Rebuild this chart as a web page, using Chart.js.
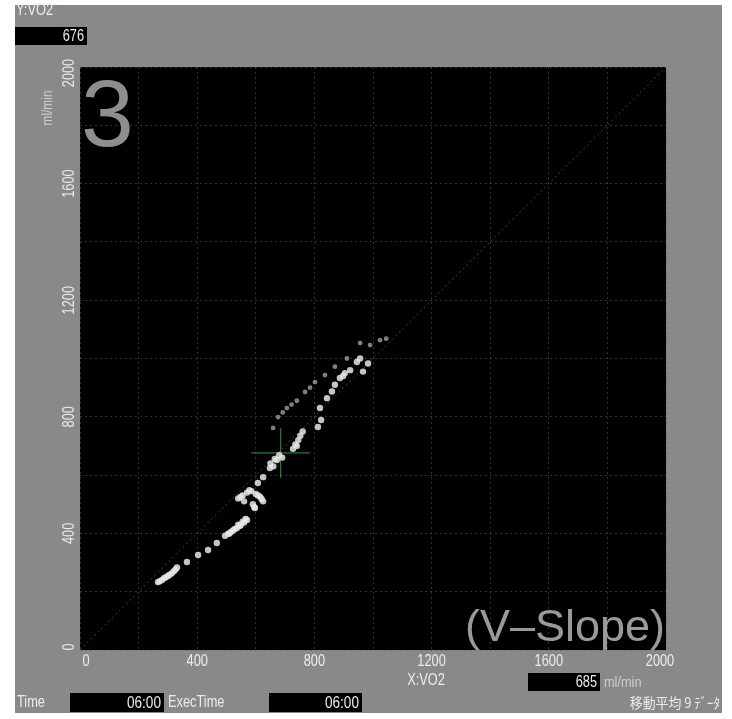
<!DOCTYPE html>
<html>
<head>
<meta charset="utf-8">
<script src="https://cdn.jsdelivr.net/npm/chart.js@4.4.1/dist/chart.umd.min.js"></script>
<style>
  html, body { margin: 0; padding: 0; background: #fff; }
  canvas { display: block; }
</style>
</head>
<body>
<canvas id="vslope" width="732" height="719"></canvas>
<script>
// V-slope data (ml/min), bright breaths
const vco2X = [266, 272, 280, 287, 293, 300, 306, 313, 320, 326, 331, 365, 403, 437, 467,
  495, 505, 510, 515, 522, 528, 535, 540, 545, 548, 555, 560, 565, 570,
  597, 540, 548, 555, 560, 570, 578, 585, 590, 595, 600, 608, 615, 620, 625,
  607, 625, 648, 650, 660, 665, 672, 680, 690,
  727, 735, 740, 745, 752, 760,
  812, 823, 819, 843, 860, 870, 887, 898, 904, 922, 945, 956, 966, 983];
const vo2Y = [233, 236, 240, 246, 250, 254, 258, 263, 270, 276, 283, 302, 326, 343, 367,
  392, 398, 400, 405, 410, 415, 418, 430, 425, 428, 440, 437, 450, 446,
  487, 520, 525, 530, 510, 540, 548, 545, 500, 490, 535, 530, 525, 518, 510,
  573, 593, 624, 640, 630, 655, 652, 668, 660,
  690, 705, 700, 720, 735, 750,
  765, 789, 830, 864, 887, 910, 933, 940, 950, 960, 988, 1000, 955, 983];

// dimmer upper arm
const dimX = [659, 676, 692, 706, 722, 740, 768, 785, 802, 836, 870, 911, 956, 990, 1024, 1045];
const dimY = [762, 799, 815, 830, 842, 855, 885, 900, 919, 943, 972, 1000, 1053, 1046, 1063, 1068];

const tickValues = [0, 400, 800, 1200, 1600, 2000];
const cursorX = 685;
const cursorY = 676;

const points = vco2X.map(function(x, i) { return { x: x, y: vo2Y[i] }; });
const dimPoints = dimX.map(function(x, i) { return { x: x, y: dimY[i] }; });

function txt(ctx, s, x, y, align, size, color, sx, font) {
    ctx.save();
    ctx.translate(x, y);
    ctx.scale(sx || 1, 1);
    ctx.font = size + 'px ' + (font || '"Liberation Sans", Arial, sans-serif');
    ctx.fillStyle = color;
    ctx.textAlign = align;
    ctx.textBaseline = 'middle';
    ctx.fillText(s, 0, 0);
    ctx.restore();
}

const panelPlugin = {
    id: 'panel',
    beforeDraw: function(chart) {
        const ctx = chart.ctx;
        const a = chart.chartArea;
        ctx.save();
        ctx.fillStyle = '#ffffff';
        ctx.fillRect(0, 0, chart.width, chart.height);
        ctx.fillStyle = '#8b888c';
        ctx.fillRect(15, 5, 707, 708);
        ctx.fillStyle = '#000000';
        ctx.fillRect(a.left, a.top, a.right - a.left, a.bottom - a.top);
        ctx.restore();
    },
    afterDraw: function(chart) {
        const ctx = chart.ctx;
        const a = chart.chartArea;
        const xs = chart.scales.x;
        const ys = chart.scales.y;
        const light = '#ececec';

        // big labels inside the plot
        txt(ctx, '3', 81, 120, 'left', 95, '#8e8e8e', 1);
        txt(ctx, '(V\u2013Slope)', a.right - 1, 629, 'right', 45, '#9a9a9a', 1);

        // tick labels from the scales
        tickValues.forEach(function(v, i) {
            let px = xs.getPixelForValue(v);
            if (i === 0) px += 6;
            if (i === tickValues.length - 1) px -= 6;
            txt(ctx, String(v), px, 662, 'center', 16, light, 0.8);

            let py = ys.getPixelForValue(v);
            if (i === 0) py -= 3;
            if (i === tickValues.length - 1) py += 6;
            ctx.save();
            ctx.translate(70, py);
            ctx.rotate(-Math.PI / 2);
            txt(ctx, String(v), 0, 0, 'center', 16, light, 0.8);
            ctx.restore();
        });

        // axis names
        txt(ctx, 'Y:VO2', 16, 11, 'left', 16, light, 0.8);
        ctx.fillStyle = '#000';
        ctx.fillRect(15, 27, 72, 18);
        txt(ctx, String(cursorY), 84, 37, 'right', 16, light, 0.8);
        ctx.save();
        ctx.translate(48, 108);
        ctx.rotate(-Math.PI / 2);
        txt(ctx, 'ml/min', 0, 0, 'center', 14, '#cfcfcf', 0.85);
        ctx.restore();

        txt(ctx, 'X:VO2', 426, 681, 'center', 16, light, 0.8);
        ctx.fillStyle = '#000';
        ctx.fillRect(528, 673, 72, 18);
        txt(ctx, String(cursorX), 597, 683, 'right', 16, light, 0.8);
        txt(ctx, 'ml/min', 604, 683, 'left', 15, '#cfcfcf', 0.85);

        // bottom status row
        txt(ctx, 'Time', 17, 703, 'left', 16, light, 0.8);
        ctx.fillStyle = '#000';
        ctx.fillRect(70, 693, 94, 19);
        txt(ctx, '06:00', 161, 703, 'right', 17, light, 0.8);
        txt(ctx, 'ExecTime', 168, 703, 'left', 16, light, 0.8);
        ctx.fillStyle = '#000';
        ctx.fillRect(269, 693, 93, 19);
        txt(ctx, '06:00', 359, 703, 'right', 17, light, 0.8);
        txt(ctx, '\u79fb\u52d5\u5e73\u5747 9 \uff83\uff9e\uff70\uff80', 720, 703, 'right', 14, light, 0.92,
            '"Noto Sans CJK JP", sans-serif');
    }
};

const gridColor = 'rgba(95,95,95,0.5)';

const chart = new Chart(document.getElementById('vslope'), {
    type: 'scatter',
    data: {
        datasets: [
            {
                label: 'VO2 / VCO2',
                data: points,
                pointRadius: 3.2,
                pointBorderWidth: 0,
                backgroundColor: 'rgba(230,230,230,0.85)',
                borderColor: 'rgba(230,230,230,0.85)'
            },
            {
                label: 'VO2 / VCO2 (dim)',
                data: dimPoints,
                pointRadius: 2.4,
                pointBorderWidth: 0,
                backgroundColor: 'rgba(170,170,170,0.75)',
                borderColor: 'rgba(170,170,170,0.75)'
            },
            {
                label: 'identity',
                data: [{ x: 0, y: 0 }, { x: 2000, y: 2000 }],
                showLine: true,
                pointRadius: 0,
                borderWidth: 1,
                borderDash: [2, 3],
                borderColor: 'rgba(100,100,100,0.7)'
            },
            {
                label: 'cursor-h',
                data: [{ x: cursorX - 100, y: cursorY }, { x: cursorX + 100, y: cursorY }],
                showLine: true,
                pointRadius: 0,
                borderWidth: 1,
                borderColor: 'rgba(70,170,70,0.85)'
            },
            {
                label: 'cursor-v',
                data: [{ x: cursorX, y: cursorY - 85 }, { x: cursorX, y: cursorY + 85 }],
                showLine: true,
                pointRadius: 0,
                borderWidth: 1,
                borderColor: 'rgba(70,170,70,0.85)'
            }
        ]
    },
    options: {
        responsive: false,
        animation: false,
        devicePixelRatio: 1,
        layout: { padding: { left: 80, top: 67, right: 66, bottom: 69 } },
        plugins: {
            legend: { display: false },
            tooltip: { enabled: false }
        },
        scales: {
            x: {
                type: 'linear',
                min: 0,
                max: 2000,
                ticks: { display: false, stepSize: 200 },
                grid: { color: gridColor, drawTicks: false },
                border: { display: false, dash: [2, 3] }
            },
            y: {
                type: 'linear',
                min: 0,
                max: 2000,
                ticks: { display: false, stepSize: 200 },
                grid: { color: gridColor, drawTicks: false },
                border: { display: false, dash: [2, 3] }
            }
        }
    },
    plugins: [panelPlugin]
});
</script>
</body>
</html>
